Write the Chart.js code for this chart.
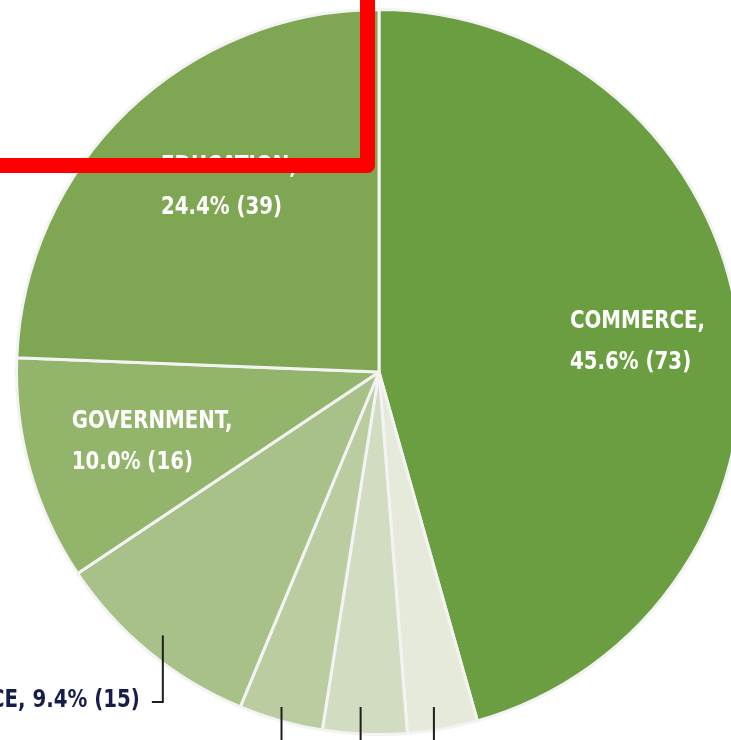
<!DOCTYPE html>
<html>
<head>
<meta charset="utf-8">
<script src="https://cdn.jsdelivr.net/npm/chart.js@4"></script>
<style>
  html, body { margin: 0; padding: 0; overflow: hidden; background: #fff; }
  #wrap { position: absolute; left: 0; top: 0; }
</style>
</head>
<body>
<div id="wrap"><canvas id="pie" width="758" height="744"></canvas></div>
<script>
// slices in clockwise order starting at 12 o'clock
const categories = ['COMMERCE', 'OTHER', 'OTHER', 'OTHER', 'SCIENCE', 'GOVERNMENT', 'EDUCATION'];
const counts = [73, 5, 6, 6, 15, 16, 39];
const sliceColors = ['#6b9e40', '#e5eadb', '#d1dcc0', '#bccca1', '#a7c188', '#93b56b', '#7fa653'];

const total = counts.reduce((a, b) => a + b, 0);
const pct = v => (v / total * 100).toFixed(1) + '%';
const labelFont = 'bold 25px "DejaVu Sans Condensed", "DejaVu Sans", sans-serif';
const squeeze = 0.88; // condensed look of the original typeface

function narrowText(ctx, txt, x, y) {
  ctx.save();
  ctx.translate(x, y);
  ctx.scale(squeeze, 1);
  ctx.fillText(txt, 0, 0);
  ctx.restore();
}

const labelPlugin = {
  id: 'sliceLabels',
  afterDraw(chart) {
    const ctx = chart.ctx;
    const arcs = chart.getDatasetMeta(0).data;
    ctx.save();
    ctx.font = labelFont;
    ctx.textBaseline = 'alphabetic';
    ctx.textAlign = 'left';

    // inside labels: [radius fraction, angle tweak in degrees]
    const inside = { 0: [0.72, 0], 5: [0.65, 0], 6: [0.67, 5.7] };
    arcs.forEach((arc, i) => {
      const p = arc.getProps(['x', 'y', 'startAngle', 'endAngle', 'outerRadius'], true);
      const mid = (p.startAngle + p.endAngle) / 2;
      const R = p.outerRadius;
      if (inside[i]) {
        const a = mid + inside[i][1] * Math.PI / 180;
        const px = p.x + Math.cos(a) * R * inside[i][0];
        const py = p.y + Math.sin(a) * R * inside[i][0];
        const l1 = categories[i] + ',';
        const l2 = pct(counts[i]) + ' (' + counts[i] + ')';
        const w = Math.max(ctx.measureText(l1).width, ctx.measureText(l2).width) * squeeze;
        ctx.fillStyle = '#ffffff';
        narrowText(ctx, l1, px - w / 2, py - 8);
        narrowText(ctx, l2, px - w / 2, py + 33);
      } else {
        // leader lines
        const sx = p.x + Math.cos(mid) * R * 0.94;
        const sy = p.y + Math.sin(mid) * R * 0.94;
        ctx.strokeStyle = '#1e1e1e';
        ctx.lineWidth = 2;
        ctx.beginPath();
        if (i === 4) {
          ctx.moveTo(sx, sy);
          ctx.lineTo(sx, p.y + 330);
          ctx.lineTo(sx - 11, p.y + 330);
          ctx.stroke();
          ctx.fillStyle = '#151d4d';
          const t = categories[i] + ', ' + pct(counts[i]) + ' (' + counts[i] + ')';
          narrowText(ctx, t, sx - 23 - ctx.measureText(t).width * squeeze, p.y + 335);
        } else {
          ctx.moveTo(sx - 5, p.y + 335);
          ctx.lineTo(sx - 5, p.y + 420);
          ctx.stroke();
        }
      }
    });

    // red annotation bracket drawn over the chart
    ctx.strokeStyle = '#ff0000';
    ctx.lineWidth = 15;
    ctx.lineJoin = 'round';
    ctx.beginPath();
    ctx.moveTo(-20, 165.5);
    ctx.lineTo(367.5, 165.5);
    ctx.lineTo(367.5, -20);
    ctx.stroke();
    ctx.restore();
  }
};

new Chart(document.getElementById('pie'), {
  type: 'pie',
  data: {
    labels: categories,
    datasets: [{
      data: counts,
      backgroundColor: sliceColors,
      borderColor: '#f3f3f3',
      borderWidth: 3
    }]
  },
  options: {
    responsive: false,
    animation: false,
    layout: { padding: 8 },
    plugins: { legend: { display: false }, tooltip: { enabled: false } }
  },
  plugins: [labelPlugin]
});
</script>
</body>
</html>
